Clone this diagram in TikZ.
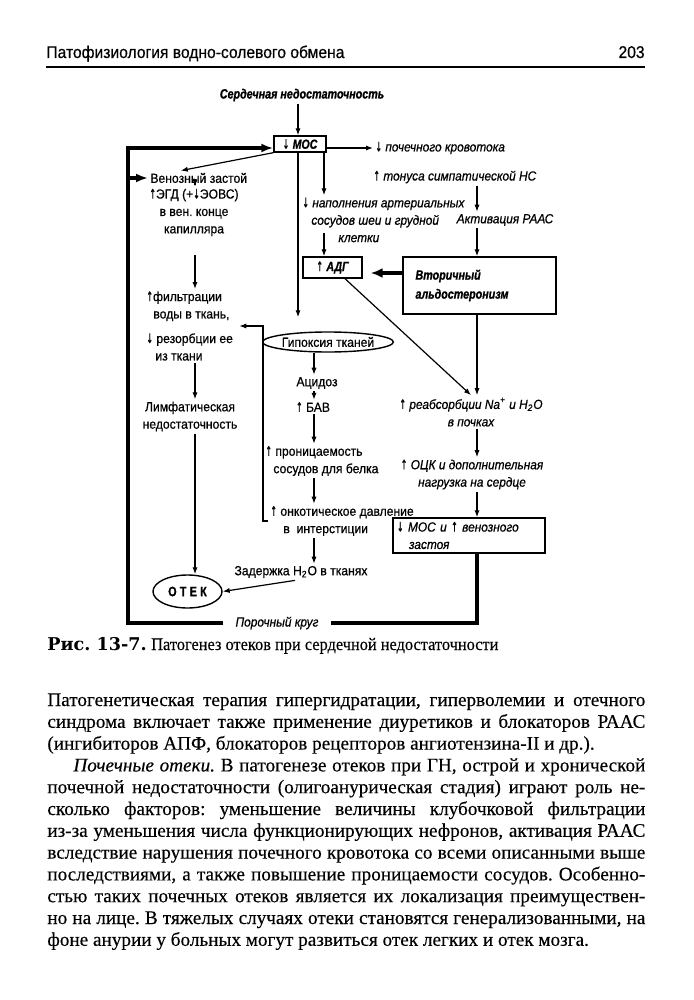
\documentclass[tikz,border=0pt]{standalone}
\usepackage{fontspec}
\setmainfont[FakeBold=0.3]{Liberation Serif}
\newfontfamily\dgfont[FakeStretch=0.92, FakeBold=0.6]{Liberation Sans}
\newfontfamily\dgital[FakeStretch=0.9, FakeBold=0.6]{Liberation Sans}
\newfontfamily\dgnarrow[FakeStretch=0.8, FakeBold=1]{Liberation Sans}
\newfontfamily\headfont[FakeStretch=0.92, FakeBold=0.5]{Liberation Sans}
\newfontfamily\capfont[FakeStretch=0.93, FakeBold=0.3]{Liberation Serif}
\newfontfamily\capbold{DejaVu Serif}
\newfontfamily\arrfont[FakeStretch=0.6, FakeBold=0.6]{DejaVu Sans}
\newcommand{\arup}{{\arrfont\upshape\mdseries ↑}}
\newcommand{\ardn}{{\arrfont\upshape\mdseries ↓}}
\usepackage{tikz}
\usetikzlibrary{arrows.meta,shapes.geometric,calc}
\frenchspacing

\begin{document}
\begin{tikzpicture}[
	x=0.5pt, y=-0.5pt,
	lbl/.style={font=\dgfont\fontsize{6.6}{8.7}\selectfont, inner sep=1pt, align=center},
	ilbl/.style={font=\dgital\fontsize{6.6}{8.7}\selectfont\itshape, inner sep=1pt, align=center},
	hlbl/.style={font=\dgnarrow\fontsize{6.7}{9.5}\selectfont\bfseries\itshape, inner sep=1pt, align=left},
	textbox/.style={draw, line width=0.7pt, inner sep=1pt},
	oval/.style={ellipse, draw, line width=0.7pt, inner sep=0},
	arr/.style={-{Latex[length=3.5pt,width=2.6pt]}, line width=0.6pt},
	loop/.style={line width=1.8pt},
	bigarr/.style={loop, -{Latex[length=6pt,width=4.5pt]}},
	secarr/.style={line width=1.6pt, -{Latex[length=6pt,width=5pt]}},
	head/.style={font=\headfont\fontsize{8.5}{9}\selectfont, inner sep=0},
	body/.style={font=\fontsize{9.6}{11}\selectfont, inner sep=0, anchor=base west}
]
\fill[white] (0,0) rectangle (693,1000);
\useasboundingbox (0,0) rectangle (693,1000);

% running head
\node[head, anchor=base west] (hd) at (46,58) {Патофизиология водно-солевого обмена};
\node[head, anchor=base east] (pg) at (645,58) {203};
\draw[line width=0.7pt] (46,67) -- (645,67);

% columns
\coordinate (lx) at (195,0);
\coordinate (mx) at (298,0);
\coordinate (cx) at (314,0);
\coordinate (ax) at (324,0);
\coordinate (bx) at (263,0);
\coordinate (rx) at (477,0);
\coordinate (lt) at (128,148);

% top
\node[hlbl] (title) at (302,95) {Сердечная недостаточность};
\node[textbox, minimum width=26pt, minimum height=8pt, inner sep=0] (mos) at (300,144) {\dgfont\fontsize{6.6}{8}\selectfont \ardn\ \dgnarrow\bfseries\itshape МОС};
\node[ilbl, anchor=west] (kid) at (373,148) {\ardn\ почечного кровотока};
\node[ilbl, anchor=west] (symp) at (371,177) {\arup\ тонуса симпатической НС};
\node[ilbl] (raas) at (505,220) {Активация РААС};
\node[lbl, anchor=west] (ven) at (148,178) {Венозный застой};
\node[lbl] (egd) at (194,212.5) {\arup ЭГД (+\ardn ЭОВС)\\в вен. конце\\капилляра};
\node[ilbl, anchor=west, align=left] (art) at (300,220) {\ardn\ наполнения артериальных\\\hspace*{4.5pt}сосудов шеи и грудной\\\hspace*{18pt}клетки};

% middle
\node[textbox, minimum width=29.5pt, minimum height=10.5pt, inner sep=0] (adg) at (332.5,267.5) {\dgfont\fontsize{6.6}{8}\selectfont \arup\ \dgnarrow\bfseries\itshape АДГ};
\node[textbox, hlbl, minimum width=76.5pt, minimum height=28.5pt, text width=64pt] (sec) at (479.5,285.5) {Вторичный\\альдостеронизм\\[2pt]};
\node[ilbl] (reab) at (471,412) {\arup\ реабсорбции Na\textsuperscript{+} и H\textsubscript{2}O\\в почках};
\node[ilbl] (ock) at (472,474.5) {\arup\ ОЦК и дополнительная\\нагрузка на сердце};
\node[textbox, ilbl, align=left, minimum width=76pt, minimum height=17.5pt, text width=72pt] (mosv) at (469,535.5) {\ardn\ МОС и \arup\ венозного\\\hspace*{6pt}застоя};

\node[oval, lbl, minimum width=60pt, minimum height=10pt, inner sep=0] (hyp) at (328,342) {Гипоксия тканей};
\node[lbl] (acid) at (317,383) {Ацидоз};
\node[lbl] (bav) at (313,407) {\arup\ БАВ};
\node[lbl, anchor=west, align=left] (perm) at (263,461) {\arup\ проницаемость\\\hspace*{4pt}сосудов для белка};
\node[lbl, anchor=west, align=left] (onc) at (268,521) {\arup\ онкотическое давление\\\hspace*{6.5pt}в\ \ интерстиции};
\node[lbl] (dh2o) at (301,572) {Задержка H\textsubscript{2}O в тканях};

% left
\node[lbl, anchor=west, align=left] (filt) at (144,326) {\arup фильтрации\\\hspace*{3.5pt}воды в ткань,\\[3.6pt]\ardn\ резорбции ее\\\hspace*{4.5pt}из ткани};
\node[lbl] (lymph) at (190,416.5) {Лимфатическая\\недостаточность};
\node[oval, minimum width=34.5pt, minimum height=16.5pt, font=\dgnarrow\fontsize{6.8}{8}\selectfont\bfseries] (otek) at (187.5,591.5) {О\hspace{1.6pt}Т\hspace{1.6pt}Е\hspace{1.6pt}К};
\node[ilbl, inner xsep=6pt] (vc) at (277,623) {Порочный круг};

% arrows
\draw[arr] (title.south -| mx) -- (mos.north -| mx);
\draw[arr] (mos.east |- kid.west) -- (kid.west);
\draw[arr] (symp.south -| rx) -- (raas.north -| rx);
\draw[arr] (raas.south -| rx) -- (sec.north -| rx);
\draw[arr] (mos.south west) -- ($(ven.north)+(-18,0)$);
\draw[arr] (ven.south -| lx) -- (egd.north -| lx);
\draw[arr, shorten <=8pt] (egd.south -| lx) -- (filt.north -| lx);
\draw[arr] (filt.south -| lx) -- (lymph.north -| lx);
\draw[arr] (lymph.south -| lx) -- (otek.north -| lx);
\draw[arr, shorten >=7pt] (mos.south -| mx) -- (hyp.north -| mx);
\draw[arr] (mos.south -| ax) -- (art.north -| ax);
\draw[arr] ($(art.south -| ax)+(0,-12)$) -- (adg.north -| ax);
\coordinate (ae) at ($(adg.east)+(0,5.5)$);
\draw[secarr, shorten >=4pt] (sec.west |- ae) -- (ae);
\draw[arr] ($(adg.south)+(12.5,0)$) -- (reab.north);
\draw[arr] (sec.south -| rx) -- (reab.north -| rx);
\draw[arr] (reab.south -| rx) -- (ock.north -| rx);
\draw[arr] (ock.south -| rx) -- (mosv.north -| rx);
\draw[arr] (hyp.south -| cx) -- (acid.north -| cx);
\draw[arr] (acid.south -| cx) -- (bav.north -| cx);
\draw[arr] (bav.south -| cx) -- (perm.north -| cx);
\draw[arr] (perm.south -| cx) -- (onc.north -| cx);
\draw[arr] (onc.south -| cx) -- (dh2o.north -| cx);
\draw[arr] ($(dh2o.south)+(-6,0)$) -- (otek.east);
\draw[arr, shorten >=2pt] (onc.west) -- (onc.west -| bx) |- (filt.east);

% vicious circle
\draw[loop] (mosv.south -| rx) |- (vc.east);
\draw[bigarr] (vc.west) -| (lt) -- (lt -| mos.west);
\draw[bigarr] (lt |- ven.west) -- (ven.west);

% caption
\node[anchor=base west, inner sep=0, font=\fontsize{8.8}{10.9}\selectfont] (cap) at (47,650) {{\capbold\bfseries Рис. 13-7.} {\capfont Патогенез отеков при сердечной недостаточности}};

% text
\node[body] (t1) at (47,706) {\makebox[299pt][s]{Патогенетическая терапия гипергидратации, гиперволемии и отечного}};
\node[body] (t2) at (47,727.8) {\makebox[299pt][s]{синдрома включает также применение диуретиков и блокаторов РААС}};
\node[body] (t3) at (47,749.6) {(ингибиторов АПФ, блокаторов рецепторов ангиотензина-II и др.).};
\node[body] (t4) at (47,771.4) {\makebox[299pt][s]{\hspace*{13pt}\textit{Почечные отеки.} В патогенезе отеков при ГН, острой и хронической}};
\node[body] (t5) at (47,793.2) {\makebox[299pt][s]{почечной недостаточности (олигоанурическая стадия) играют роль не-}};
\node[body] (t6) at (47,815) {\makebox[299pt][s]{сколько факторов: уменьшение величины клубочковой фильтрации}};
\node[body] (t7) at (47,836.8) {\makebox[299pt][s]{из-за уменьшения числа функционирующих нефронов, активация РААС}};
\node[body] (t8) at (47,858.6) {\makebox[299pt][s]{вследствие нарушения почечного кровотока со всеми описанными выше}};
\node[body] (t9) at (47,880.4) {\makebox[299pt][s]{последствиями, а также повышение проницаемости сосудов. Особенно-}};
\node[body] (t10) at (47,902.2) {\makebox[299pt][s]{стью таких почечных отеков является их локализация преимуществен-}};
\node[body] (t11) at (47,924) {\makebox[299pt][s]{но на лице. В тяжелых случаях отеки становятся генерализованными, на}};
\node[body] (t12) at (47,945.8) {фоне анурии у больных могут развиться отек легких и отек мозга.};
\end{tikzpicture}
\end{document}
